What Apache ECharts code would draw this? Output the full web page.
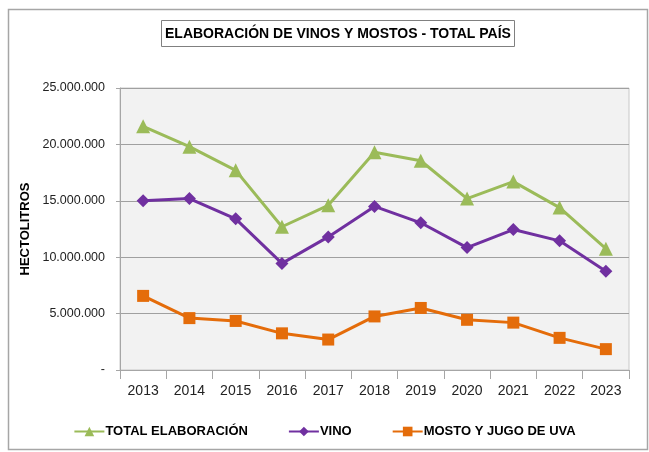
<!DOCTYPE html>
<html>
<head>
<meta charset="utf-8">
<script src="https://cdn.jsdelivr.net/npm/echarts@6/dist/echarts.min.js"></script>
<style>
html, body { margin: 0; padding: 0; background: #fff; }
#main { width: 649px; height: 452px; }
</style>
</head>
<body>
<div id="main"></div>
<script>
// datos
var years = ['2013', '2014', '2015', '2016', '2017', '2018', '2019', '2020', '2021', '2022', '2023'];
var totalElab = [21600000, 19800000, 17700000, 12700000, 14600000, 19300000, 18550000, 15200000, 16700000, 14400000, 10750000];
var vino = [15000000, 15200000, 13400000, 9450000, 11800000, 14500000, 13050000, 10850000, 12450000, 11450000, 8750000];
var mosto = [6570000, 4600000, 4350000, 3250000, 2700000, 4750000, 5500000, 4450000, 4200000, 2850000, 1850000];

var font = '"Liberation Sans", sans-serif';

function fmt(v) {
    if (v === 0) return '-';
    return String(v).replace(/\B(?=(\d{3})+(?!\d))/g, '.');
}

var chart = echarts.init(document.getElementById('main'));

var option = {
    animation: false,
    backgroundColor: '#fff',
    graphic: [{
        type: 'rect',
        shape: { x: 8.5, y: 9.5, width: 639, height: 440 },
        style: { fill: 'none', stroke: '#a6a6a6', lineWidth: 1.5 }
    }],
    title: {
        text: 'ELABORACIÓN DE VINOS Y MOSTOS - TOTAL PAÍS',
        left: 161,
        top: 20,
        borderWidth: 1,
        borderColor: '#808080',
        padding: [7, 4, 6, 4],
        textStyle: { fontFamily: font, fontSize: 14, fontWeight: 'bold', color: '#000' }
    },
    legend: {
        bottom: 9,
        left: 'center',
        itemWidth: 30,
        itemHeight: 12,
        itemGap: 40,
        textStyle: { fontFamily: font, fontSize: 13, fontWeight: 'bold', color: '#000', padding: [0, 0, 0, -4] },
        data: ['TOTAL ELABORACIÓN', 'VINO', 'MOSTO Y JUGO DE UVA']
    },
    grid: {
        left: 120,
        right: 20,
        top: 88,
        bottom: 82,
        show: true,
        backgroundColor: '#f2f2f2',
        borderColor: '#c8c8c8',
        borderWidth: 1
    },
    xAxis: {
        type: 'category',
        data: years,
        boundaryGap: true,
        axisLine: { lineStyle: { color: '#a6a6a6', width: 1 } },
        axisTick: { show: true, interval: 0, length: 9, lineStyle: { color: '#a6a6a6' } },
        axisLabel: { fontFamily: font, fontSize: 14, color: '#222', margin: 14 }
    },
    yAxis: {
        type: 'value',
        min: 0,
        max: 25000000,
        interval: 5000000,
        name: 'HECTOLITROS',
        nameLocation: 'middle',
        nameGap: 87,
        nameRotate: 90,
        nameTextStyle: { fontFamily: font, fontSize: 13, fontWeight: 'bold', color: '#000' },
        axisLine: { show: true, lineStyle: { color: '#a6a6a6', width: 1 } },
        axisTick: { show: true, length: 4, lineStyle: { color: '#a6a6a6' } },
        axisLabel: { fontFamily: font, fontSize: 12.5, color: '#222', margin: 15, formatter: fmt },
        splitLine: { lineStyle: { color: '#a0a0a0', width: 1 } }
    },
    series: [
        {
            name: 'TOTAL ELABORACIÓN',
            type: 'line',
            data: totalElab,
            symbol: 'triangle',
            symbolSize: 14,
            itemStyle: { color: '#9bbb59' },
            lineStyle: { color: '#9bbb59', width: 3 }
        },
        {
            name: 'VINO',
            type: 'line',
            data: vino,
            symbol: 'diamond',
            symbolSize: 13,
            itemStyle: { color: '#7030a0' },
            lineStyle: { color: '#7030a0', width: 3 }
        },
        {
            name: 'MOSTO Y JUGO DE UVA',
            type: 'line',
            data: mosto,
            symbol: 'rect',
            symbolSize: 12,
            itemStyle: { color: '#e46c0a' },
            lineStyle: { color: '#e46c0a', width: 3 }
        }
    ]
};

chart.setOption(option);
</script>
</body>
</html>
